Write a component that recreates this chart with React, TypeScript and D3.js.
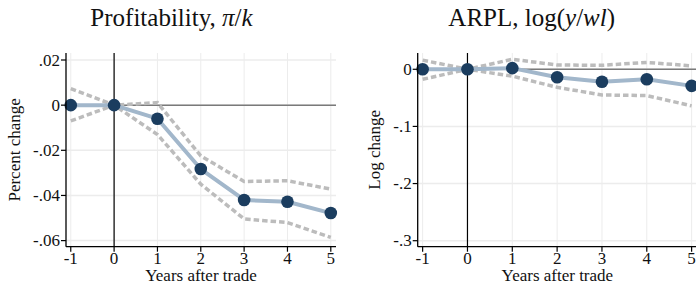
import React from "react";
import * as d3 from "d3";

const years = [-1, 0, 1, 2, 3, 4, 5];
const xTicks = [-1, 0, 1, 2, 3, 4, 5];

const profEst = [0, 0, -0.006, -0.0283, -0.042, -0.0428, -0.0478];
const profHi = [0.0073, 0, 0.0011, -0.0225, -0.0338, -0.0335, -0.0372];
const profLo = [-0.007, 0, -0.013, -0.035, -0.0504, -0.052, -0.0586];
const profTicks = [0.02, 0, -0.02, -0.04, -0.06];
const profTickLabels = [".02", "0", "-.02", "-.04", "-.06"];

const arplEst = [0, 0, 0.002, -0.014, -0.0217, -0.0175, -0.029];
const arplHi = [0.016, 0, 0.0175, 0.0075, 0.007, 0.012, 0.006];
const arplLo = [-0.0175, 0, -0.012, -0.0315, -0.045, -0.046, -0.064];
const arplTicks = [0, -0.1, -0.2, -0.3];
const arplTickLabels = ["0", "-.1", "-.2", "-.3"];

const FONT = "'Liberation Serif', 'Times New Roman', serif";
const NAVY = "#1b3d5f";
const LINE = "#a2b7cb";
const CI = "#bcbcbc";
const GRID = "#ececec";
const AX = 17;

type PanelProps = {
  left: number;
  right: number;
  top: number;
  bottom: number;
  yDomain: [number, number];
  est: number[];
  hi: number[];
  lo: number[];
  yTicks: number[];
  yTickLabels: string[];
  yLabel: string;
  yLabelX: number;
  clipId: string;
};

function Panel(p: PanelProps) {
  const x = d3.scaleLinear().domain([-1.11, 5.12]).range([p.left, p.right]);
  const y = d3.scaleLinear().domain(p.yDomain).range([p.bottom, p.top]);
  const line = d3
    .line<number>()
    .x((_, i) => x(years[i]))
    .y((d) => y(d));
  return (
    <g>
      <defs>
        <clipPath id={p.clipId}>
          <rect x={p.left} y={p.top} width={p.right - p.left} height={p.bottom - p.top} />
        </clipPath>
      </defs>
      {xTicks.map((t) => (
        <line key={"gx" + t} x1={x(t)} x2={x(t)} y1={p.top} y2={p.bottom} stroke={GRID} strokeWidth={1} />
      ))}
      {p.yTicks.map((t) => (
        <line key={"gy" + t} x1={p.left} x2={p.right} y1={y(t)} y2={y(t)} stroke={GRID} strokeWidth={1.5} />
      ))}
      <line x1={p.left} x2={p.right} y1={y(0)} y2={y(0)} stroke="#7a7a7a" strokeWidth={1.5} />
      <line x1={x(0)} x2={x(0)} y1={p.top} y2={p.bottom} stroke="#000" strokeWidth={1.2} />
      <g clipPath={`url(#${p.clipId})`}>
        <path d={line(p.hi) || ""} fill="none" stroke={CI} strokeWidth={3.5} strokeDasharray="5.5 3" />
        <path d={line(p.lo) || ""} fill="none" stroke={CI} strokeWidth={3.5} strokeDasharray="5.5 3" />
        <path d={line(p.est) || ""} fill="none" stroke={LINE} strokeWidth={4} strokeLinejoin="round" />
      </g>
      {p.est.map((v, i) => (
        <circle key={"c" + i} cx={x(years[i])} cy={y(v)} r={6.3} fill={NAVY} />
      ))}
      <line x1={p.left} x2={p.left} y1={p.top} y2={p.bottom} stroke="#000" strokeWidth={1.3} />
      <line x1={p.left} x2={p.right} y1={p.bottom} y2={p.bottom} stroke="#000" strokeWidth={1.3} />
      {p.yTicks.map((t, i) => (
        <g key={"yt" + t}>
          <line x1={p.left - 5} x2={p.left} y1={y(t)} y2={y(t)} stroke="#000" strokeWidth={1.2} />
          <text
            x={p.left - 6}
            y={y(t)}
            dy="0.34em"
            textAnchor="end"
            fontFamily={FONT}
            fontSize={AX}
            fill="#111"
          >
            {p.yTickLabels[i]}
          </text>
        </g>
      ))}
      {xTicks.map((t) => (
        <g key={"xt" + t}>
          <line x1={x(t)} x2={x(t)} y1={p.bottom} y2={p.bottom + 5} stroke="#000" strokeWidth={1.2} />
          <text x={x(t)} y={264} textAnchor="middle" fontFamily={FONT} fontSize={AX} fill="#111">
            {t}
          </text>
        </g>
      ))}
      <text
        x={(p.left + p.right) / 2}
        y={281}
        textAnchor="middle"
        fontFamily={FONT}
        fontSize={AX}
        fill="#111"
      >
        Years after trade
      </text>
      <text
        transform={`translate(${p.yLabelX},${(p.top + p.bottom) / 2}) rotate(-90)`}
        textAnchor="middle"
        fontFamily={FONT}
        fontSize={AX}
        fill="#111"
      >
        {p.yLabel}
      </text>
    </g>
  );
}

export default function App() {
  return (
    <svg
      width={696}
      height={283}
      style={{ position: "absolute", left: 0, top: 0, background: "#fff" }}
    >
      <rect width={696} height={283} fill="#fff" />
      <text x={171.5} y={26} textAnchor="middle" fontFamily={FONT} fontSize={25} fill="#111">
        Profitability, <tspan fontStyle="italic">π</tspan>/<tspan fontStyle="italic">k</tspan>
      </text>
      <text x={531.7} y={26} textAnchor="middle" fontFamily={FONT} fontSize={25} fill="#111">
        ARPL, log(<tspan fontStyle="italic">y</tspan>/<tspan fontStyle="italic">wl</tspan>)
      </text>
      <Panel
        left={66}
        right={336}
        top={53}
        bottom={246.7}
        yDomain={[-0.0627, 0.0231]}
        est={profEst}
        hi={profHi}
        lo={profLo}
        yTicks={profTicks}
        yTickLabels={profTickLabels}
        yLabel="Percent change"
        yLabelX={20}
        clipId="clipA"
      />
      <Panel
        left={417.7}
        right={697}
        top={53}
        bottom={246.7}
        yDomain={[-0.3105, 0.0285]}
        est={arplEst}
        hi={arplHi}
        lo={arplLo}
        yTicks={arplTicks}
        yTickLabels={arplTickLabels}
        yLabel="Log change"
        yLabelX={380}
        clipId="clipB"
      />
    </svg>
  );
}
